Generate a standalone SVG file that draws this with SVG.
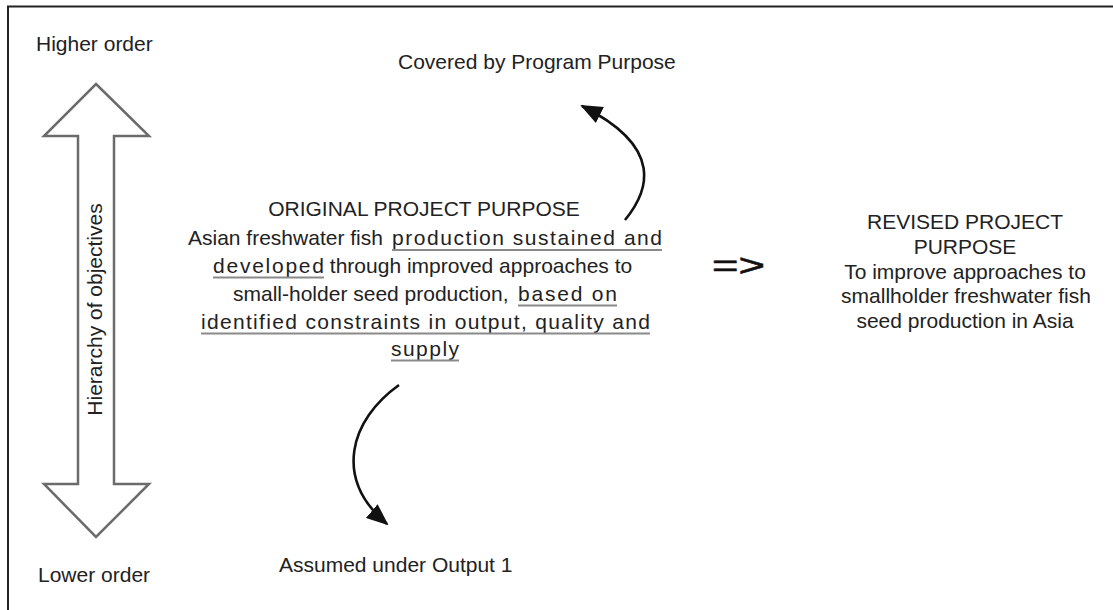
<svg xmlns="http://www.w3.org/2000/svg" width="1113" height="610" viewBox="0 0 1113 610">
  <style>
    .t { font-family: "Liberation Sans", Arial, sans-serif; font-size: 21px; fill: #222; }
    .mid { text-anchor: middle; }
    .ul { stroke: #8a8a8a; stroke-width: 2; }
    .curve { fill: none; stroke: #111; stroke-width: 2.6; }
    .frame { fill: none; stroke: #222; stroke-width: 2; }
    .hier { fill: #fff; stroke: #6b6b6b; stroke-width: 2.5; stroke-linejoin: miter; }
  </style>
  <defs>
    <marker id="head" markerUnits="userSpaceOnUse" markerWidth="22" markerHeight="18" viewBox="0 0 22 18" refX="20" refY="9" orient="auto">
      <path d="M0,0 L22,9 L0,18 Z" fill="#111"/>
    </marker>
  </defs>

  <rect width="1113" height="610" fill="#fff"/>
  <!-- frame: top and left edges only -->
  <path class="frame" d="M8,620 V6.5 H1120"/>

  <!-- hierarchy double arrow -->
  <g id="hierarchy">
    <path class="hier" d="M96,84 L149,136 L114,136 L114,484 L149,484 L96,537 L44,484 L78,484 L78,136 L44,136 Z"/>
    <text class="t mid" transform="translate(102,309.5) rotate(-90)">Hierarchy of objectives</text>
  </g>

  <g id="higher-order">
    <text class="t" x="36" y="51">Higher order</text>
  </g>
  <g id="lower-order">
    <text class="t" x="38" y="582">Lower order</text>
  </g>

  <g id="covered">
    <text class="t" x="398" y="69">Covered by Program Purpose</text>
  </g>

  <g id="assumed">
    <text class="t" x="279" y="572">Assumed under Output 1</text>
  </g>

  <!-- original project purpose -->
  <g id="original-purpose">
    <text class="t mid" x="424" y="216">ORIGINAL PROJECT PURPOSE</text>
    <text class="t" y="245"><tspan x="188">Asian freshwater fish </tspan><tspan x="392" textLength="270" lengthAdjust="spacing">production sustained and</tspan></text>
    <text class="t" y="273"><tspan x="213" textLength="111" lengthAdjust="spacing">developed</tspan><tspan x="324"> through improved approaches to</tspan></text>
    <text class="t" y="301"><tspan x="233">small-holder seed production, </tspan><tspan x="518" textLength="99" lengthAdjust="spacing">based on</tspan></text>
    <text class="t" y="329"><tspan x="201" textLength="449" lengthAdjust="spacing">identified constraints in output, quality and</tspan></text>
    <text class="t" y="356"><tspan x="391" textLength="68" lengthAdjust="spacing">supply</tspan></text>
    <line class="ul" x1="392" y1="250" x2="662" y2="250"/>
    <line class="ul" x1="213" y1="277.5" x2="324" y2="277.5"/>
    <line class="ul" x1="518" y1="305.5" x2="617" y2="305.5"/>
    <line class="ul" x1="201" y1="333.5" x2="650" y2="333.5"/>
    <line class="ul" x1="391" y1="360.5" x2="459" y2="360.5"/>
  </g>

  <g id="implies">
    <text x="712" y="276" font-family="Liberation Sans, Arial, sans-serif" font-size="32" fill="#111" stroke="#111" stroke-width="0.6" textLength="53" lengthAdjust="spacingAndGlyphs">=&gt;</text>
  </g>

  <!-- revised project purpose -->
  <g id="revised-purpose">
    <text class="t mid" x="965" y="229">REVISED PROJECT</text>
    <text class="t mid" x="965" y="253.5">PURPOSE</text>
    <text class="t mid" x="965" y="278.5">To improve approaches to</text>
    <text class="t mid" x="966" y="303">smallholder freshwater fish</text>
    <text class="t mid" x="965" y="327.5">seed production in Asia</text>
  </g>

  <!-- curved connectors -->
  <g id="connectors">
    <path class="curve" d="M625,220 C648,192 666,148 582,106" marker-end="url(#head)"/>
    <path class="curve" d="M399,385 C350,420 333,478 387,524" marker-end="url(#head)"/>
  </g>
</svg>
